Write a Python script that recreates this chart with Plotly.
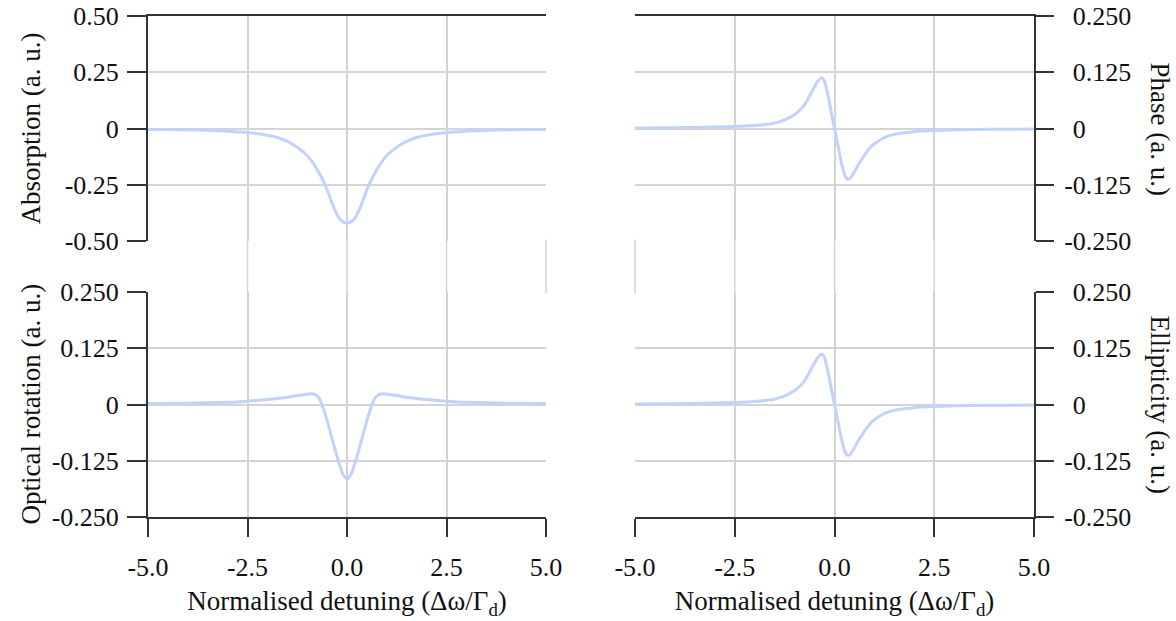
import plotly.graph_objects as go

# ---- data -------------------------------------------------------------
x_abs = [-5, -4.5, -4, -3.5, -3, -2.5, -2, -1.75, -1.5, -1.25, -1, -0.9, -0.8, -0.7,
         -0.6, -0.5, -0.4, -0.3, -0.2, -0.1, 0, 0.1, 0.2, 0.3, 0.4, 0.5, 0.6, 0.7,
         0.8, 0.9, 1, 1.25, 1.5, 1.75, 2, 2.5, 3, 3.5, 4, 4.5, 5]
absorption = [-0.004, -0.005, -0.006, -0.008, -0.012, -0.018, -0.030, -0.040, -0.057,
              -0.083, -0.120, -0.142, -0.168, -0.198, -0.232, -0.272, -0.320, -0.364,
              -0.398, -0.415, -0.420, -0.415, -0.398, -0.364, -0.320, -0.272, -0.232,
              -0.198, -0.168, -0.142, -0.120, -0.083, -0.057, -0.040, -0.030, -0.018,
              -0.012, -0.008, -0.006, -0.005, -0.004]

x_disp = [-5, -4, -3.5, -3, -2.5, -2, -1.75, -1.5, -1.25, -1.0, -0.9, -0.8, -0.7, -0.6,
          -0.5, -0.4, -0.32, -0.25, -0.2, -0.15, -0.1, -0.05, 0, 0.05, 0.1, 0.15, 0.2,
          0.25, 0.3, 0.35, 0.4, 0.5, 0.6, 0.7, 0.8, 0.9, 1.0, 1.25, 1.5, 1.75, 2.0,
          2.5, 3, 4, 5]
phase = [0.0012, 0.0018, 0.0024, 0.0032, 0.0045, 0.0068, 0.0088, 0.012, 0.019, 0.031,
         0.038, 0.047, 0.060, 0.076, 0.093, 0.107, 0.113, 0.105, 0.088, 0.068, 0.044,
         0.021, 0.0, -0.022, -0.044, -0.066, -0.086, -0.102, -0.111, -0.113, -0.110,
         -0.096, -0.080, -0.066, -0.053, -0.042, -0.034, -0.020, -0.013, -0.0095,
         -0.007, -0.0045, -0.003, -0.0018, -0.0012]
ellipticity = [0.0012, 0.0018, 0.0024, 0.0032, 0.0045, 0.0068, 0.0088, 0.012, 0.019,
               0.031, 0.038, 0.047, 0.060, 0.076, 0.093, 0.106, 0.112, 0.104, 0.087,
               0.067, 0.044, 0.021, 0.0, -0.022, -0.044, -0.066, -0.086, -0.102, -0.111,
               -0.113, -0.110, -0.096, -0.080, -0.066, -0.053, -0.042, -0.034, -0.020,
               -0.013, -0.0095, -0.007, -0.0045, -0.003, -0.0018, -0.0012]

x_rot = [-5, -4, -3, -2.5, -2, -1.5, -1.25, -1.0, -0.9, -0.8, -0.7, -0.6, -0.5, -0.4,
         -0.3, -0.2, -0.1, 0, 0.1, 0.2, 0.3, 0.4, 0.5, 0.6, 0.7, 0.8, 0.9, 1.0, 1.25,
         1.5, 2, 2.5, 3, 4, 5]
rotation = [0.002, 0.003, 0.005, 0.0075, 0.011, 0.016, 0.020, 0.023, 0.024, 0.022,
            0.014, -0.008, -0.036, -0.068, -0.100, -0.130, -0.155, -0.165, -0.155,
            -0.130, -0.100, -0.068, -0.036, -0.008, 0.014, 0.022, 0.024, 0.023, 0.020,
            0.016, 0.011, 0.0075, 0.005, 0.003, 0.002]

x_range = [-5, 5]
x_ticks = [-5, -2.5, 0, 2.5, 5]
x_ticktext = ["-5.0", "-2.5", "0.0", "2.5", "5.0"]
abs_ticks = [-0.5, -0.25, 0, 0.25, 0.5]
abs_ticktext = ["-0.50", "-0.25", "0", "0.25", "0.50"]
small_ticks = [-0.25, -0.125, 0, 0.125, 0.25]
small_ticktext = ["-0.250", "-0.125", "0", "0.125", "0.250"]

x_title = "Normalised detuning (Δω/Γ<sub>d</sub>)"

# ---- styling ----------------------------------------------------------
FONT = "Liberation Serif, serif"
TICK_FS = 26
TITLE_FS = 27
LINE_C = "#c3d1fe"
AXIS_C = "#333333"
GRID_C = "#d4d4d4"

# panel domains (paper fractions)
xL = [148 / 1176, 546 / 1176]
xR = [635 / 1176, 1034 / 1176]
yT = [1 - 241 / 621, 1 - 16 / 621]
yB = [1 - 517 / 621, 1 - 292 / 621]


def hang_minus(labels):
    # right-side labels: pad non-negative values so the digits line up and
    # the minus sign hangs out to the left
    return [t if t.startswith("-") else "\u2004" + t for t in labels]


fig = go.Figure()
panels = [
    (x_abs, absorption, "x", "y"),
    (x_disp, phase, "x2", "y2"),
    (x_rot, rotation, "x3", "y3"),
    (x_disp, ellipticity, "x4", "y4"),
]
for xs, ys, xa, ya in panels:
    fig.add_trace(go.Scatter(x=xs, y=ys, xaxis=xa, yaxis=ya, mode="lines",
                             line=dict(color=LINE_C, width=3, shape="spline", smoothing=0.6),
                             showlegend=False, hoverinfo="skip"))


def xaxis(domain, anchor, bottom):
    d = dict(domain=domain, anchor=anchor, range=x_range, tickvals=x_ticks,
             showgrid=True, gridcolor=GRID_C, gridwidth=1.5, zeroline=False,
             showline=True, linecolor=AXIS_C, linewidth=2, automargin=False,
             tickfont=dict(size=TICK_FS))
    if bottom:
        d.update(side="bottom", ticks="outside", ticklen=18, tickwidth=2,
                 tickcolor=AXIS_C, ticktext=x_ticktext, showticklabels=True,
                 ticklabelstandoff=8,
                 title=dict(text=x_title, standoff=10, font=dict(size=TITLE_FS)))
    else:
        d.update(side="top", ticks="", showticklabels=False)
    return d


def yaxis(domain, anchor, side, rng, vals, text):
    right = side == "right"
    return dict(domain=domain, anchor=anchor, side=side, range=rng, tickvals=vals,
                ticktext=hang_minus(text) if right else text,
                showgrid=True, gridcolor=GRID_C, gridwidth=1.5,
                zeroline=False, showline=True, linecolor=AXIS_C, linewidth=2,
                ticks="outside", ticklen=19 if not right else 18, tickwidth=2,
                tickcolor=AXIS_C, ticklabelstandoff=5 if right else 3,
                automargin=False, tickfont=dict(size=TICK_FS))


fig.update_layout(
    width=1176, height=621,
    margin=dict(l=0, r=0, t=0, b=0),
    paper_bgcolor="white", plot_bgcolor="white",
    font=dict(family=FONT, size=TICK_FS, color="#111111"),
    xaxis=xaxis(xL, "y", False),
    xaxis2=xaxis(xR, "y2", False),
    xaxis3=xaxis(xL, "y3", True),
    xaxis4=xaxis(xR, "y4", True),
    yaxis=yaxis(yT, "x", "left", [-0.5, 0.5], abs_ticks, abs_ticktext),
    yaxis2=yaxis(yT, "x2", "right", [-0.25, 0.25], small_ticks, small_ticktext),
    yaxis3=yaxis(yB, "x3", "left", [-0.25, 0.25], small_ticks, small_ticktext),
    yaxis4=yaxis(yB, "x4", "right", [-0.25, 0.25], small_ticks, small_ticktext),
)


def to_paper(t, dom):
    # position of an x value on the page, for a column spanning `dom`
    return dom[0] + (t - x_range[0]) / (x_range[1] - x_range[0]) * (dom[1] - dom[0])


# vertical grid continues through the gap between the rows
for dom, skip in ((xL, x_range[0]), (xR, x_range[1])):
    for t in x_ticks:
        if t == skip:
            continue
        xp = to_paper(t, dom)
        fig.add_shape(type="line", xref="paper", yref="paper", x0=xp, x1=xp,
                      y0=yB[1] - 0.002, y1=yT[0] + 0.002,
                      line=dict(color=GRID_C, width=1.5), layer="above")

# y-axis titles
titles = [
    ("Absorption (a. u.)", 30 / 1176, sum(yT) / 2, -90),
    ("Optical rotation (a. u.)", 30 / 1176, sum(yB) / 2, -90),
    ("Phase (a. u.)", 1160 / 1176, sum(yT) / 2, 90),
    ("Ellipticity (a. u.)", 1160 / 1176, sum(yB) / 2, 90),
]
for text, x, y, ang in titles:
    fig.add_annotation(text=text, x=x, y=y, xref="paper", yref="paper",
                       showarrow=False, textangle=ang, xanchor="center",
                       yanchor="middle", font=dict(size=TITLE_FS))

fig.write_html("out.html")
